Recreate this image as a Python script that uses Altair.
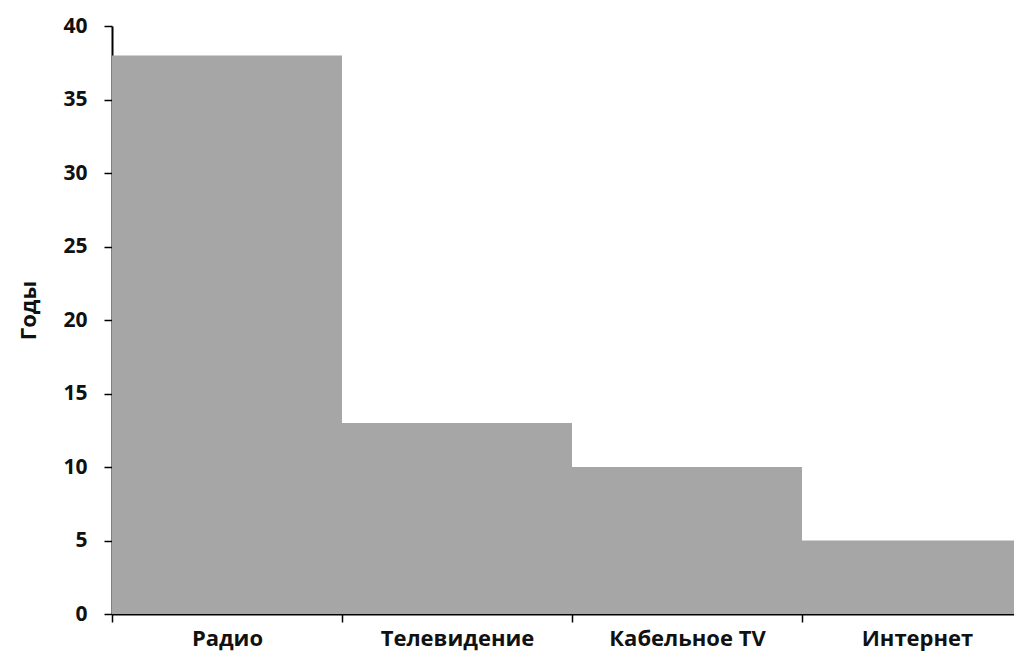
import altair as alt
import pandas as pd

categories = ["Радио", "Телевидение", "Кабельное TV", "Интернет"]
values = [38, 13, 10, 5]

df = pd.DataFrame({"cat": categories, "val": values})

FONT = "Open Sans"

chart = alt.Chart(df).mark_bar(color="#A6A6A6", clip=True).encode(
    x=alt.X(
        "cat:N",
        sort=categories,
        scale=alt.Scale(paddingInner=0, paddingOuter=0),
        axis=alt.Axis(
            title=None,
            labelAngle=0,
            tickBand="extent",
            tickSize=8,
            tickColor="#000000",
            tickWidth=1.5,
            domainColor="#000000",
            domainWidth=2,
            labelFont=FONT,
            labelFontSize=22,
            labelFontWeight="bold",
            labelColor="#111111",
            labelBaseline="alphabetic",
            labelPadding=23,
            grid=False,
        ),
    ),
    y=alt.Y(
        "val:Q",
        scale=alt.Scale(domain=[0, 40], nice=False),
        axis=alt.Axis(
            title="Годы",
            values=[0, 5, 10, 15, 20, 25, 30, 35, 40],
            tickSize=8,
            tickColor="#000000",
            tickWidth=1.5,
            domainColor="#000000",
            domainWidth=2,
            labelFont=FONT,
            labelFontSize=21,
            labelFontWeight="bold",
            labelColor="#111111",
            labelPadding=17,
            titleFont=FONT,
            titleFontSize=22,
            titleFontWeight="bold",
            titleColor="#111111",
            titlePadding=22,
            titleY=284,
            grid=False,
        ),
    ),
).properties(
    width=920,
    height=588,
    background="white",
    autosize=alt.AutoSizeParams(type="none"),
    padding={"left": 104, "top": 18, "right": -18, "bottom": 40},
).configure_view(strokeWidth=0).configure_axis(grid=False)

chart.save("out.html", embed_options={"renderer": "svg", "actions": False})
